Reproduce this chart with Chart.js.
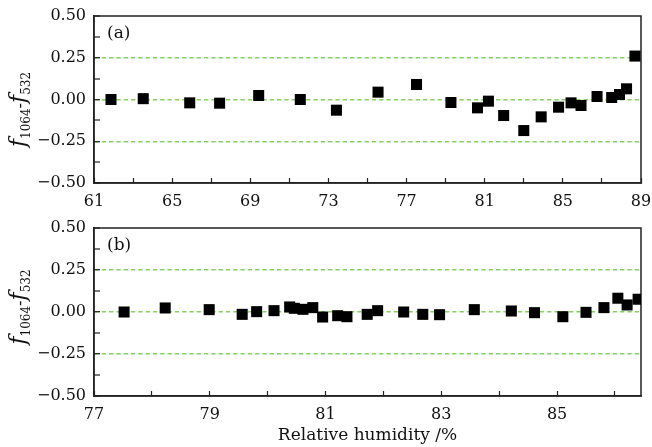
<!DOCTYPE html>
<html>
<head>
<meta charset="utf-8">
<script src="https://cdn.jsdelivr.net/npm/chart.js@4"></script>
<style>
  body { margin: 0; background: #fff; }
  #wrap { position: relative; width: 652px; height: 447px; }
  canvas { position: absolute; left: 0; }
  #chartA { top: 0; }
  #chartB { top: 210px; }
</style>
</head>
<body>
<div id="wrap">
  <canvas id="chartA" width="652" height="210"></canvas>
  <canvas id="chartB" width="652" height="237"></canvas>
</div>
<script>
/* ======================================
   DATA
====================================== */
const humidityA = [61.87, 63.52, 65.9, 67.43, 69.43, 71.56, 73.41, 75.54, 77.51, 79.27, 80.63, 81.19,
  81.97, 83.0, 83.89, 84.78, 85.42, 85.93, 86.75, 87.5, 87.9, 88.26, 88.69];
const diffA = [0.0, 0.005, -0.02, -0.022, 0.024, 0.0, -0.064, 0.044, 0.09, -0.018, -0.05, -0.01,
  -0.096, -0.186, -0.104, -0.046, -0.02, -0.036, 0.018, 0.012, 0.03, 0.064, 0.26];

const humidityB = [77.52, 78.23, 78.99, 79.56, 79.81, 80.11, 80.38, 80.46, 80.61, 80.78, 80.95, 81.21,
  81.37, 81.72, 81.9, 82.35, 82.68, 82.97, 83.57, 84.21, 84.61, 85.1, 85.5, 85.81, 86.05, 86.21, 86.4];
const diffB = [0.0, 0.024, 0.014, -0.014, 0.002, 0.008, 0.03, 0.022, 0.016, 0.026, -0.03, -0.022,
  -0.028, -0.014, 0.008, 0.0, -0.014, -0.016, 0.014, 0.006, -0.004, -0.028, -0.002, 0.026, 0.082, 0.042, 0.076];

const xLabelsA = [61, 65, 69, 73, 77, 81, 85, 89];
const xLabelsB = [77, 79, 81, 83, 85];
const yLabels = [-0.5, -0.25, 0, 0.25, 0.5];
const guideLines = [-0.25, 0, 0.25];

const SERIF = "'DejaVu Serif', serif";
const INK = "#111";
const GREEN = "#86d160";


/* ======================================
   PLUGINS
====================================== */
const framePlugin = {
  id: "frame",
  beforeDatasetsDraw(chart) {
    const a = chart.chartArea, ctx = chart.ctx;
    ctx.save();
    ctx.strokeStyle = "#222";
    ctx.lineWidth = 1.5;
    ctx.strokeRect(a.left, a.top, a.right - a.left, a.bottom - a.top);
    ctx.restore();
  }
};

const decorPlugin = {
  id: "decor",
  afterDraw(chart, args, opts) {
    const a = chart.chartArea, ctx = chart.ctx;
    ctx.save();
    ctx.fillStyle = INK;

    // panel tag
    ctx.font = "17px " + SERIF;
    ctx.textBaseline = "middle";
    ctx.fillText(opts.tag, a.left + 13, a.top + 18);

    // y title: f1064-f532 with subscripts, rotated
    const parts = [
      { t: "f", font: "italic 22px " + SERIF, dy: 0 },
      { t: "1064", font: "12px " + SERIF, dy: 5 },
      { t: "-", font: "16px " + SERIF, dy: 0 },
      { t: "f", font: "italic 22px " + SERIF, dy: 0 },
      { t: "532", font: "12px " + SERIF, dy: 5 }
    ];
    let total = 0;
    parts.forEach(p => { ctx.font = p.font; p.w = ctx.measureText(p.t).width; total += p.w; });
    ctx.translate(25, (a.top + a.bottom) / 2 + opts.titleShift);
    ctx.rotate(-Math.PI / 2);
    ctx.textBaseline = "alphabetic";
    let x = -total / 2;
    parts.forEach(p => {
      ctx.font = p.font;
      ctx.fillText(p.t, x, p.dy);
      x += p.w;
    });
    ctx.restore();
  }
};


/* ======================================
   PANEL BUILDER
====================================== */
function fmt(v) {
  const s = Math.abs(v).toFixed(2);
  return v < 0 ? "\u2212" + s : s;
}

function makePanel(canvasId, xs, ys, xMin, xMax, xStep, xLabels, opts) {
  const points = xs.map((x, i) => ({ x: x, y: ys[i] }));

  return new Chart(document.getElementById(canvasId), {
    type: "scatter",
    data: {
      datasets: [{
        data: points,
        pointStyle: "rect",
        pointRadius: 7.8,
        pointHoverRadius: 7.8,
        backgroundColor: "#000",
        borderWidth: 0
      }]
    },
    options: {
      responsive: false,
      animation: false,
      devicePixelRatio: 1,
      layout: { padding: { top: opts.top, right: 11, left: 0, bottom: 0 } },
      plugins: {
        legend: { display: false },
        tooltip: { enabled: false },
        decor: { tag: opts.tag, titleShift: opts.titleShift }
      },
      scales: {
        x: {
          type: "linear",
          min: xMin,
          max: xMax,
          ticks: {
            stepSize: xStep,
            includeBounds: false,
            autoSkip: false,
            maxRotation: 0,
            padding: 14,
            color: INK,
            font: { family: SERIF, size: 16 },
            callback: v => xLabels.some(l => Math.abs(l - v) < 1e-6) ? String(v) : ""
          },
          grid: {
            drawOnChartArea: false,
            drawTicks: true,
            tickLength: -5,
            tickWidth: 1.2,
            tickColor: "#222"
          },
          border: { display: true, color: "#222", width: 1.5 },
          title: {
            display: !!opts.xTitle,
            text: opts.xTitle || "",
            color: INK,
            font: { family: SERIF, size: 17 },
            padding: { top: 0, bottom: 1 }
          },
          afterFit: s => { s.height = opts.xHeight; s.paddingLeft = 0; s.paddingRight = 0; }
        },
        y: {
          type: "linear",
          min: -0.5,
          max: 0.5,
          ticks: {
            stepSize: 0.125,
            autoSkip: false,
            padding: 14,
            color: INK,
            font: { family: SERIF, size: 16 },
            callback: v => yLabels.some(l => Math.abs(l - v) < 1e-9) ? fmt(v) : ""
          },
          grid: {
            drawOnChartArea: true,
            drawTicks: true,
            tickLength: -6,
            tickWidth: 1.2,
            tickColor: "#222",
            lineWidth: c => guideLines.some(l => Math.abs(l - c.tick.value) < 1e-9) ? 1.4 : 0,
            color: GREEN
          },
          border: { display: true, color: "#222", width: 1.5, dash: [4.3, 3] },
          afterFit: s => { s.width = 94; s.paddingTop = 0; s.paddingBottom = 0; }
        }
      }
    },
    plugins: [framePlugin, decorPlugin]
  });
}


/* ======================================
   INIT
====================================== */
makePanel("chartA", humidityA, diffA, 61, 89, 2, xLabelsA,
  { top: 16, xHeight: 27, tag: "(a)", titleShift: 10 });

makePanel("chartB", humidityB, diffB, 77, 86.45, 1, xLabelsB,
  { top: 18, xHeight: 51, tag: "(b)", titleShift: -5, xTitle: "Relative humidity /%" });
</script>
</body>
</html>
